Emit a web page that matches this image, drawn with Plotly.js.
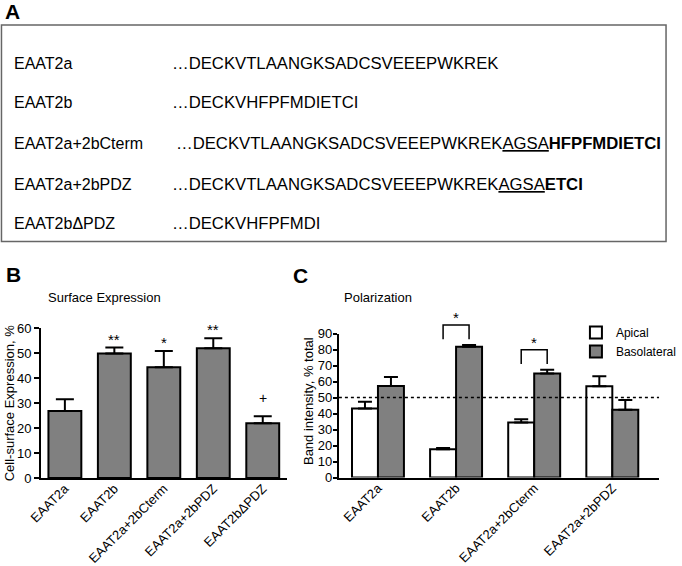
<!DOCTYPE html>
<html><head><meta charset="utf-8">
<script src="https://cdn.plot.ly/plotly-3.0.1.min.js"></script>
<style>html,body{margin:0;padding:0;background:#fff;}#chart{width:682px;height:566px;}</style>
</head><body><div id="chart"></div>
<script>
// ---- Panel A: constructs and C-terminal sequences ----
const constructNames = ['EAAT2a', 'EAAT2b', 'EAAT2a+2bCterm', 'EAAT2a+2bPDZ', 'EAAT2bΔPDZ'];
const sequences = [
  '…DECKVTLAANGKSADCSVEEEPWKREK',
  '…DECKVHFPFMDIETCI',
  '…DECKVTLAANGKSADCSVEEEPWKREK<u>AGSA</u><b>HFPFMDIETCI</b>',
  '…DECKVTLAANGKSADCSVEEEPWKREK<u>AGSA</u><b>ETCI</b>',
  '…DECKVHFPFMDI'
];

// ---- Panel B: surface expression ----
const surfaceCategories = ['EAAT2a', 'EAAT2b', 'EAAT2a+2bCterm', 'EAAT2a+2bPDZ', 'EAAT2bΔPDZ'];
const surfaceMean = [26.8, 49.8, 44.3, 51.9, 21.9];
const surfaceErr = [4.7, 2.4, 6.5, 4.0, 2.8];
const surfaceSig = ['', '**', '*', '**', '+'];

// ---- Panel C: polarization ----
const polarCategories = ['EAAT2a', 'EAAT2b', 'EAAT2a+2bCterm', 'EAAT2a+2bPDZ'];
const apicalMean = [43.1, 17.7, 34.4, 57.1];
const apicalErr = [4.2, 0.8, 2.0, 6.2];
const basoMean = [57.2, 81.7, 65.0, 42.3];
const basoErr = [5.6, 1.1, 2.3, 6.2];
const polarSig = ['', '*', '*', ''];
const polarRef = 50;

// ---- geometry helpers ----
const W = 682, H = 566;
const px = x => x / W;
const py = y => 1 - y / H;
const FONT = 'Liberation Sans, Arial, Helvetica, sans-serif';
const GRAY = '#808080';
const BARGAP = 0.335;

const domBx = [px(42), px(293)], domBy = [py(478), py(328)];
const domCx = [px(346), px(673)], domCy = [py(477.5), py(333.5)];
const rangeBx = [-0.48, 4.49], rangeBy = [0, 60];
const rangeCx = [-0.5, 3.6], rangeCy = [0, 90];
const cxp = v => domCx[0] + (v - rangeCx[0]) / (rangeCx[1] - rangeCx[0]) * (domCx[1] - domCx[0]);
const cyp = v => domCy[0] + (v - rangeCy[0]) / (rangeCy[1] - rangeCy[0]) * (domCy[1] - domCy[0]);

const zeros = n => new Array(n).fill(0);

const traces = [
  {
    type: 'bar', x: surfaceCategories, y: surfaceMean, xaxis: 'x', yaxis: 'y',
    marker: {color: GRAY, line: {color: '#000', width: 2}},
    error_y: {type: 'data', symmetric: false, array: surfaceErr, arrayminus: zeros(surfaceErr.length),
              color: '#000', thickness: 2, width: 9},
    showlegend: false, hoverinfo: 'skip'
  },
  {
    type: 'bar', name: 'Apical', x: polarCategories, y: apicalMean, xaxis: 'x2', yaxis: 'y2',
    marker: {color: '#ffffff', line: {color: '#000', width: 2}},
    error_y: {type: 'data', symmetric: false, array: apicalErr, arrayminus: zeros(apicalErr.length),
              color: '#000', thickness: 2, width: 7},
    hoverinfo: 'skip'
  },
  {
    type: 'bar', name: 'Basolateral', x: polarCategories, y: basoMean, xaxis: 'x2', yaxis: 'y2',
    marker: {color: GRAY, line: {color: '#000', width: 2}},
    error_y: {type: 'data', symmetric: false, array: basoErr, arrayminus: zeros(basoErr.length),
              color: '#000', thickness: 2, width: 7},
    hoverinfo: 'skip'
  }
];

const annotations = [];
const shapes = [];
const txt = (x, y, text, size, extra) => Object.assign({
  xref: 'paper', yref: 'paper', x: x, y: y, text: text, showarrow: false,
  xanchor: 'left', yanchor: 'middle', font: {family: FONT, size: size, color: '#000'}
}, extra || {});

// Panel letters and titles
annotations.push(txt(px(3), py(11), '<b>A</b>', 21));
annotations.push(txt(px(4), py(274), '<b>B</b>', 21));
annotations.push(txt(px(297), py(275), '<b>C</b>', 21));
annotations.push(txt(px(47), py(297), 'Surface Expression', 13));
annotations.push(txt(px(349), py(297), 'Polarization', 13));

// Y axis titles
annotations.push(txt(px(10), py(403.5), 'Cell-surface Expression, %', 13, {textangle: -90, xanchor: 'center'}));
annotations.push(txt(px(314.5), py(401), 'Band intensity, % total', 13, {textangle: -90, xanchor: 'center'}));

// Panel A table
const rowY = [63, 103, 143, 184, 224];
const seqX = [174, 174, 178, 174, 174];
constructNames.forEach((n, i) => {
  annotations.push(txt(px(12), py(rowY[i]), n, 16));
  annotations.push(txt(px(seqX[i]), py(rowY[i]), sequences[i], 16.7));
});
shapes.push({type: 'rect', xref: 'paper', yref: 'paper', x0: px(1.5), x1: px(680), y0: py(25), y1: py(241.5),
             line: {color: '#666', width: 1.5}, fillcolor: 'rgba(0,0,0,0)'});

// Panel B significance marks
surfaceSig.forEach((s, i) => {
  if (!s) return;
  annotations.push({xref: 'x', yref: 'y', x: surfaceCategories[i], y: surfaceMean[i] + surfaceErr[i],
    text: s, showarrow: false, yanchor: 'bottom', xanchor: 'center', yshift: s === '+' ? 8 : -2,
    font: {family: FONT, size: s === '+' ? 14 : 15, color: '#000'}});
});

// Panel C significance brackets
const half = (1 - BARGAP) / 4;
polarSig.forEach((s, i) => {
  if (!s) return;
  const top = Math.max(apicalMean[i] + apicalErr[i], basoMean[i] + basoErr[i]);
  const x0 = cxp(i - half), x1 = cxp(i + half);
  const yl = cyp(top + 3.6), yt = cyp(top + 12.5);
  shapes.push({type: 'path', xref: 'paper', yref: 'paper',
    path: `M${x0},${yl} L${x0},${yt} L${x1},${yt} L${x1},${yl}`,
    line: {color: '#000', width: 1.5}});
  annotations.push(txt(cxp(i), yt, s, 15, {xanchor: 'center', yanchor: 'bottom', yshift: -3}));
});

// Panel C 50% reference line
shapes.push({type: 'line', xref: 'x2', yref: 'y2', x0: rangeCx[0], x1: rangeCx[1], y0: polarRef, y1: polarRef,
             line: {color: '#000', width: 1.5, dash: 'dot'}, layer: 'above'});

const axisCommon = {
  showline: true, linecolor: '#000', linewidth: 2, showgrid: false, zeroline: false,
  tickfont: {family: FONT, size: 13, color: '#000'}, fixedrange: true
};
const xTickFont = {family: FONT, size: 13, color: '#000'};

const layout = {
  width: W, height: H, margin: {l: 0, r: 0, t: 0, b: 0},
  paper_bgcolor: '#fff', plot_bgcolor: 'rgba(0,0,0,0)',
  font: {family: FONT, color: '#000'},
  barmode: 'group', bargap: BARGAP, bargroupgap: 0,
  xaxis: Object.assign({}, axisCommon, {domain: domBx, range: rangeBx, anchor: 'y', type: 'category',
    ticks: '', tickangle: -45, tickfont: xTickFont, ticklabelstandoff: -4}),
  yaxis: Object.assign({}, axisCommon, {domain: domBy, range: rangeBy, anchor: 'x', dtick: 10,
    ticks: 'outside', ticklen: 5, tickwidth: 2, tickcolor: '#000'}),
  xaxis2: Object.assign({}, axisCommon, {domain: domCx, range: rangeCx, anchor: 'y2', type: 'category',
    ticks: '', tickangle: -45, tickfont: xTickFont, ticklabelstandoff: -4}),
  yaxis2: Object.assign({}, axisCommon, {domain: domCy, range: rangeCy, anchor: 'x2', dtick: 10,
    ticks: 'outside', ticklen: 4, tickwidth: 2, tickcolor: '#000', ticklabelstandoff: -2}),
  showlegend: true,
  legend: {x: px(588), y: py(318), xanchor: 'left', yanchor: 'top', bgcolor: 'rgba(0,0,0,0)',
           font: {family: FONT, size: 12, color: '#000'}, traceorder: 'normal', tracegroupgap: 0},
  annotations: annotations,
  shapes: shapes
};

Plotly.newPlot('chart', traces, layout, {displayModeBar: false, staticPlot: true});
</script></body></html>
